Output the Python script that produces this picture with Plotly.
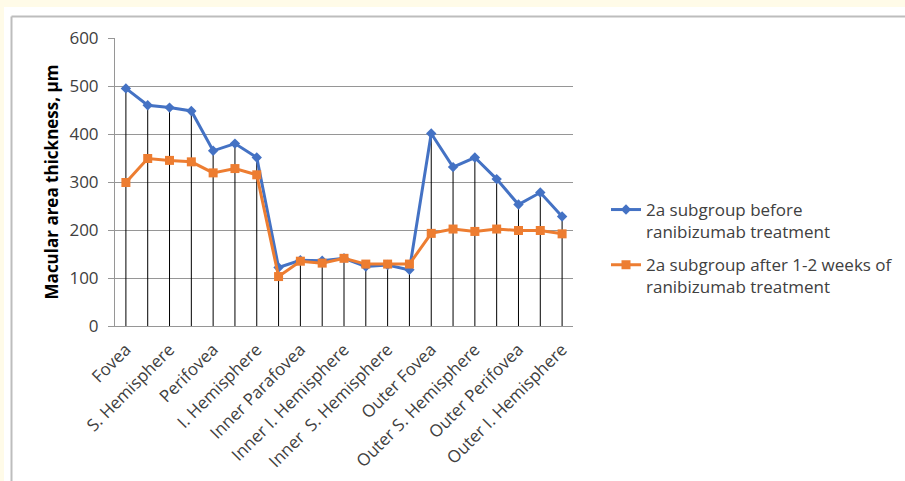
import plotly.graph_objects as go

# Macular regions, labelled on every second measurement point
region_labels = [
    "Fovea", "S. Hemisphere", "Perifovea", "I. Hemisphere", "Inner Parafovea",
    "Inner I. Hemisphere", "Inner  S. Hemisphere", "Outer Fovea",
    "Outer S. Hemisphere", "Outer Perifovea", "Outer I. Hemisphere",
]

# Thickness values (µm) for the 21 measurement points
before_treatment = [495, 460, 455, 448, 365, 380, 351, 122, 137, 136, 141,
                    124, 127, 117, 401, 331, 351, 306, 253, 278, 228]
after_treatment = [299, 349, 345, 342, 319, 328, 315, 103, 135, 131, 141,
                   129, 129, 129, 193, 202, 197, 202, 199, 199, 192]

y_ticks = [0, 100, 200, 300, 400, 500, 600]

points = list(range(len(before_treatment)))
label_positions = points[::2]

FONT = "'Open Sans', sans-serif"
BLUE = "#4472C4"
ORANGE = "#ED7D31"
GRID = "#969696"

# Drop lines from the higher of the two series down to the axis
drop_x, drop_y = [], []
for i, (b, a) in enumerate(zip(before_treatment, after_treatment)):
    drop_x += [i, i, None]
    drop_y += [0, max(b, a), None]

fig = go.Figure()
fig.add_trace(go.Scatter(
    x=drop_x, y=drop_y, mode="lines",
    line=dict(color="#000000", width=1),
    hoverinfo="skip", showlegend=False,
))
fig.add_trace(go.Scatter(
    x=points, y=before_treatment, mode="lines+markers",
    name="2a subgroup before<br>ranibizumab treatment",
    legendgroup="before",
    line=dict(color=BLUE, width=3),
    marker=dict(symbol="diamond", size=8, color=BLUE),
))
fig.add_trace(go.Scatter(
    x=points, y=after_treatment, mode="lines+markers",
    name="2a subgroup after 1-2 weeks of<br>ranibizumab treatment",
    legendgroup="after",
    line=dict(color=ORANGE, width=3),
    marker=dict(symbol="square", size=9, color=ORANGE),
))

L, R, T, B = 115, 332, 38, 155
W, H = 905, 481
pw, ph = W - L - R, H - T - B


def px_x(px):
    return (px - L) / pw


def px_y(py):
    return (H - B - py) / ph


shapes = [
    # white card on the pale yellow page
    dict(type="rect", xref="paper", yref="paper", layer="below",
         x0=px_x(4), x1=px_x(W + 5), y0=px_y(7), y1=px_y(H + 5),
         fillcolor="#FFFFFF", line=dict(width=0)),
    # card frame
    dict(type="line", xref="paper", yref="paper", layer="below",
         x0=px_x(11.5), x1=px_x(11.5), y0=px_y(16.5), y1=px_y(H + 5),
         line=dict(color="#BDBDBD", width=2)),
    dict(type="line", xref="paper", yref="paper", layer="below",
         x0=px_x(11.5), x1=px_x(W + 5), y0=px_y(16.5), y1=px_y(16.5),
         line=dict(color="#BDBDBD", width=2)),
]

fig.update_layout(
    width=W, height=H,
    margin=dict(l=L, r=R, t=T, b=B, autoexpand=False),
    paper_bgcolor="#FFFBE8",
    plot_bgcolor="#FFFFFF",
    font=dict(family=FONT, size=16, color="#404040"),
    shapes=shapes,
    showlegend=True,
    legend=dict(
        x=px_x(606), xanchor="left", y=px_y(192), yanchor="top",
        font=dict(family=FONT, size=17, color="#404040"),
        bgcolor="rgba(0,0,0,0)", tracegroupgap=8, valign="top",
    ),
    xaxis=dict(
        range=[-0.5, len(points) - 0.5],
        tickmode="array", tickvals=label_positions, ticktext=region_labels,
        tickangle=-45, showgrid=False, zeroline=False,
        showline=True, linecolor=GRID, linewidth=1,
        ticks="outside", ticklen=6, tickcolor="rgba(0,0,0,0)",
        tickfont=dict(family=FONT, size=17, color="#404040"),
        fixedrange=True,
    ),
    yaxis=dict(
        range=[0, 600], tickvals=y_ticks,
        showgrid=True, gridcolor=GRID, gridwidth=1,
        zeroline=False, showline=True, linecolor=GRID, linewidth=1,
        ticks="outside", ticklen=6, tickcolor=GRID,
        ticklabelstandoff=6,
        tickfont=dict(family=FONT, size=17, color="#404040"),
        title=dict(text="<b>Macular area thickness, µm</b>",
                   font=dict(family=FONT, size=17, color="#000000"),
                   standoff=6),
        fixedrange=True,
    ),
)

fig.write_html("out.html")
